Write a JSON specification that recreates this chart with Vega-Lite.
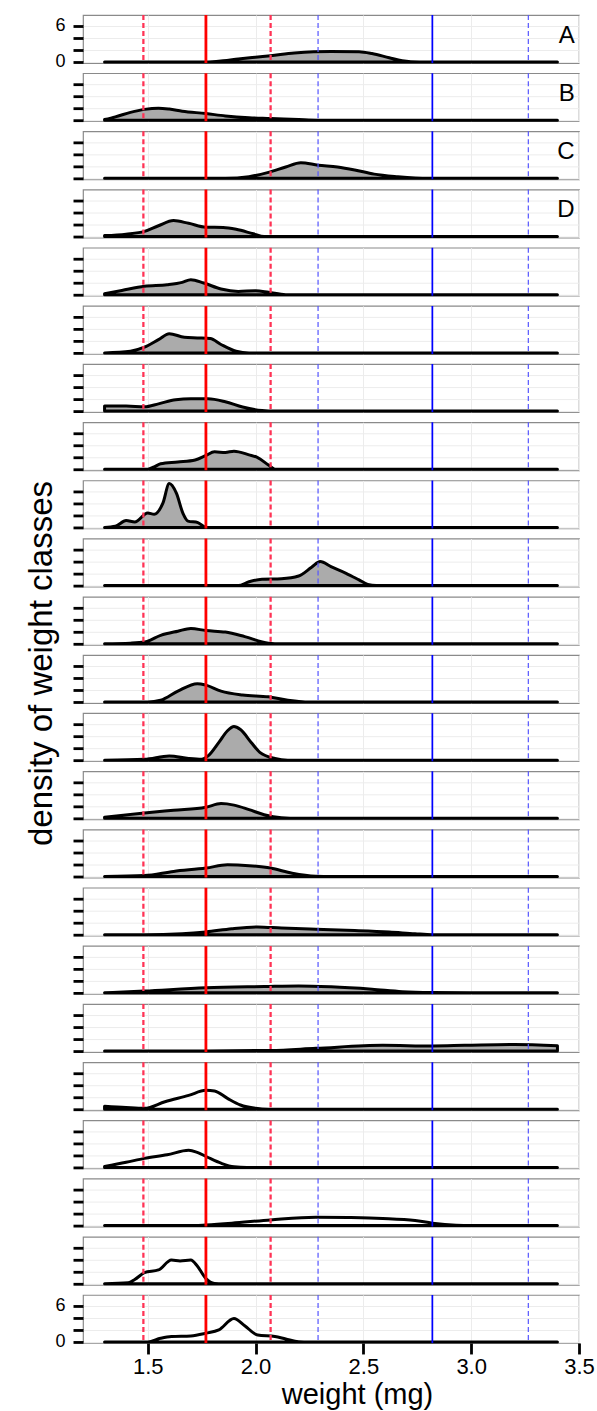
{
"$schema":"https://vega.github.io/schema/vega-lite/v6.json",
"padding":{"left":24,"top":13,"right":5,"bottom":0},
"spacing":10.18,
"bounds":"flush",
"background":"white",
"data":{"name":"dens"},
"datasets":{
"refs":[{"v":1.48,"k":"sd1"},{"v":1.77,"k":"mean1"},{"v":2.07,"k":"sd1"},{"v":2.29,"k":"sd2"},{"v":2.82,"k":"mean2"},{"v":3.265,"k":"sd2"}],
"letters":[{"p":1,"lab":"A"},{"p":2,"lab":"B"},{"p":3,"lab":"C"},{"p":4,"lab":"D"}],
"dens":[
{"p":1,"w":1.3,"d":0},{"p":1,"w":1.77,"d":0},{"p":1,"w":1.85,"d":0.2},{"p":1,"w":1.92,"d":0.5},{"p":1,"w":2.0,"d":0.8},{"p":1,"w":2.07,"d":1.05},{"p":1,"w":2.18,"d":1.5},{"p":1,"w":2.27,"d":1.7},{"p":1,"w":2.35,"d":1.75},{"p":1,"w":2.48,"d":1.7},{"p":1,"w":2.54,"d":1.4},{"p":1,"w":2.62,"d":0.7},{"p":1,"w":2.68,"d":0.2},{"p":1,"w":2.76,"d":0},{"p":1,"w":3.4,"d":0},
{"p":2,"w":1.3,"d":0.1},{"p":2,"w":1.35,"d":0.55},{"p":2,"w":1.42,"d":1.3},{"p":2,"w":1.485,"d":1.8},{"p":2,"w":1.55,"d":2.0},{"p":2,"w":1.6,"d":1.85},{"p":2,"w":1.66,"d":1.5},{"p":2,"w":1.77,"d":1.1},{"p":2,"w":1.86,"d":0.7},{"p":2,"w":1.97,"d":0.4},{"p":2,"w":2.07,"d":0.28},{"p":2,"w":2.2,"d":0.1},{"p":2,"w":2.29,"d":0},{"p":2,"w":3.4,"d":0},
{"p":3,"w":1.3,"d":0},{"p":3,"w":1.86,"d":0},{"p":3,"w":1.97,"d":0.28},{"p":3,"w":2.06,"d":1.0},{"p":3,"w":2.14,"d":1.9},{"p":3,"w":2.21,"d":2.6},{"p":3,"w":2.29,"d":2.2},{"p":3,"w":2.38,"d":1.9},{"p":3,"w":2.46,"d":1.4},{"p":3,"w":2.55,"d":0.7},{"p":3,"w":2.66,"d":0.28},{"p":3,"w":2.8,"d":0},{"p":3,"w":3.4,"d":0},
{"p":4,"w":1.3,"d":0.15},{"p":4,"w":1.4,"d":0.4},{"p":4,"w":1.485,"d":0.85},{"p":4,"w":1.55,"d":1.8},{"p":4,"w":1.62,"d":2.65},{"p":4,"w":1.69,"d":2.2},{"p":4,"w":1.77,"d":1.55},{"p":4,"w":1.85,"d":1.5},{"p":4,"w":1.91,"d":1.2},{"p":4,"w":1.99,"d":0.45},{"p":4,"w":2.04,"d":0},{"p":4,"w":3.4,"d":0},
{"p":5,"w":1.3,"d":0.15},{"p":5,"w":1.38,"d":0.7},{"p":5,"w":1.485,"d":1.4},{"p":5,"w":1.59,"d":1.65},{"p":5,"w":1.66,"d":2.05},{"p":5,"w":1.7,"d":2.5},{"p":5,"w":1.76,"d":1.95},{"p":5,"w":1.84,"d":0.95},{"p":5,"w":1.92,"d":0.55},{"p":5,"w":2.0,"d":0.65},{"p":5,"w":2.06,"d":0.4},{"p":5,"w":2.14,"d":0},{"p":5,"w":3.4,"d":0},
{"p":6,"w":1.3,"d":0},{"p":6,"w":1.42,"d":0.28},{"p":6,"w":1.485,"d":0.95},{"p":6,"w":1.55,"d":2.2},{"p":6,"w":1.6,"d":3.2},{"p":6,"w":1.67,"d":2.6},{"p":6,"w":1.73,"d":2.5},{"p":6,"w":1.79,"d":2.4},{"p":6,"w":1.84,"d":1.4},{"p":6,"w":1.91,"d":0.28},{"p":6,"w":1.97,"d":0},{"p":6,"w":3.4,"d":0},
{"p":7,"w":1.3,"d":0.85},{"p":7,"w":1.4,"d":0.85},{"p":7,"w":1.485,"d":0.7},{"p":7,"w":1.55,"d":1.2},{"p":7,"w":1.63,"d":1.9},{"p":7,"w":1.7,"d":2.05},{"p":7,"w":1.78,"d":2.05},{"p":7,"w":1.86,"d":1.55},{"p":7,"w":1.94,"d":0.67},{"p":7,"w":2.03,"d":0.1},{"p":7,"w":2.09,"d":0},{"p":7,"w":3.4,"d":0},
{"p":8,"w":1.3,"d":0},{"p":8,"w":1.5,"d":0},{"p":8,"w":1.53,"d":0.4},{"p":8,"w":1.56,"d":0.9},{"p":8,"w":1.64,"d":1.2},{"p":8,"w":1.72,"d":1.55},{"p":8,"w":1.77,"d":2.3},{"p":8,"w":1.81,"d":2.9},{"p":8,"w":1.86,"d":2.8},{"p":8,"w":1.9,"d":3.0},{"p":8,"w":1.97,"d":2.4},{"p":8,"w":2.01,"d":1.95},{"p":8,"w":2.06,"d":0.7},{"p":8,"w":2.09,"d":0},{"p":8,"w":3.4,"d":0},
{"p":9,"w":1.3,"d":0},{"p":9,"w":1.35,"d":0.2},{"p":9,"w":1.4,"d":1.15},{"p":9,"w":1.44,"d":0.9},{"p":9,"w":1.5,"d":2.4},{"p":9,"w":1.53,"d":2.2},{"p":9,"w":1.57,"d":4.0},{"p":9,"w":1.6,"d":7.3},{"p":9,"w":1.633,"d":5.7},{"p":9,"w":1.664,"d":2.3},{"p":9,"w":1.687,"d":1.05},{"p":9,"w":1.733,"d":0.8},{"p":9,"w":1.77,"d":0},{"p":9,"w":3.4,"d":0},
{"p":10,"w":1.3,"d":0},{"p":10,"w":1.92,"d":0},{"p":10,"w":1.97,"d":0.65},{"p":10,"w":2.03,"d":1.05},{"p":10,"w":2.12,"d":1.15},{"p":10,"w":2.2,"d":1.6},{"p":10,"w":2.26,"d":3.05},{"p":10,"w":2.3,"d":4.0},{"p":10,"w":2.35,"d":3.15},{"p":10,"w":2.42,"d":2.05},{"p":10,"w":2.48,"d":0.95},{"p":10,"w":2.52,"d":0.2},{"p":10,"w":2.56,"d":0},{"p":10,"w":3.4,"d":0},
{"p":11,"w":1.3,"d":0},{"p":11,"w":1.42,"d":0.1},{"p":11,"w":1.485,"d":0.28},{"p":11,"w":1.56,"d":1.4},{"p":11,"w":1.64,"d":2.1},{"p":11,"w":1.7,"d":2.55},{"p":11,"w":1.77,"d":2.2},{"p":11,"w":1.86,"d":1.95},{"p":11,"w":1.95,"d":1.2},{"p":11,"w":2.06,"d":0.1},{"p":11,"w":2.12,"d":0},{"p":11,"w":3.4,"d":0},
{"p":12,"w":1.3,"d":0},{"p":12,"w":1.5,"d":0},{"p":12,"w":1.56,"d":0.28},{"p":12,"w":1.64,"d":1.8},{"p":12,"w":1.73,"d":3.05},{"p":12,"w":1.77,"d":2.8},{"p":12,"w":1.84,"d":1.8},{"p":12,"w":1.94,"d":1.15},{"p":12,"w":2.06,"d":0.85},{"p":12,"w":2.15,"d":0.28},{"p":12,"w":2.23,"d":0},{"p":12,"w":3.4,"d":0},
{"p":13,"w":1.3,"d":0},{"p":13,"w":1.485,"d":0.15},{"p":13,"w":1.6,"d":0.7},{"p":13,"w":1.69,"d":0.28},{"p":13,"w":1.75,"d":0.15},{"p":13,"w":1.78,"d":0.7},{"p":13,"w":1.83,"d":2.95},{"p":13,"w":1.87,"d":4.9},{"p":13,"w":1.9,"d":5.6},{"p":13,"w":1.93,"d":5.1},{"p":13,"w":1.98,"d":2.95},{"p":13,"w":2.02,"d":1.3},{"p":13,"w":2.09,"d":0.28},{"p":13,"w":2.15,"d":0},{"p":13,"w":3.4,"d":0},
{"p":14,"w":1.3,"d":0.2},{"p":14,"w":1.485,"d":0.9},{"p":14,"w":1.62,"d":1.35},{"p":14,"w":1.77,"d":1.85},{"p":14,"w":1.84,"d":2.45},{"p":14,"w":1.9,"d":2.2},{"p":14,"w":1.97,"d":1.45},{"p":14,"w":2.04,"d":0.6},{"p":14,"w":2.12,"d":0.1},{"p":14,"w":2.2,"d":0},{"p":14,"w":3.4,"d":0},
{"p":15,"w":1.3,"d":0},{"p":15,"w":1.485,"d":0.15},{"p":15,"w":1.62,"d":0.85},{"p":15,"w":1.77,"d":1.4},{"p":15,"w":1.87,"d":1.95},{"p":15,"w":1.97,"d":1.8},{"p":15,"w":2.07,"d":1.4},{"p":15,"w":2.17,"d":0.55},{"p":15,"w":2.28,"d":0.05},{"p":15,"w":2.35,"d":0},{"p":15,"w":3.4,"d":0},
{"p":16,"w":1.3,"d":0},{"p":16,"w":1.485,"d":0},{"p":16,"w":1.66,"d":0.15},{"p":16,"w":1.77,"d":0.45},{"p":16,"w":1.89,"d":1.0},{"p":16,"w":2.01,"d":1.3},{"p":16,"w":2.12,"d":1.1},{"p":16,"w":2.28,"d":0.9},{"p":16,"w":2.46,"d":0.7},{"p":16,"w":2.62,"d":0.45},{"p":16,"w":2.74,"d":0.15},{"p":16,"w":2.82,"d":0},{"p":16,"w":3.4,"d":0},
{"p":17,"w":1.3,"d":0},{"p":17,"w":1.485,"d":0.3},{"p":17,"w":1.77,"d":0.85},{"p":17,"w":2.04,"d":1.05},{"p":17,"w":2.2,"d":1.15},{"p":17,"w":2.35,"d":1.0},{"p":17,"w":2.54,"d":0.6},{"p":17,"w":2.68,"d":0.2},{"p":17,"w":2.82,"d":0.05},{"p":17,"w":3.0,"d":0},{"p":17,"w":3.4,"d":0},
{"p":18,"w":1.3,"d":0},{"p":18,"w":1.77,"d":0},{"p":18,"w":2.07,"d":0.1},{"p":18,"w":2.28,"d":0.45},{"p":18,"w":2.59,"d":0.95},{"p":18,"w":2.82,"d":0.85},{"p":18,"w":2.97,"d":0.95},{"p":18,"w":3.2,"d":1.1},{"p":18,"w":3.4,"d":0.9},
{"p":19,"w":1.3,"d":0.5},{"p":19,"w":1.4,"d":0.28},{"p":19,"w":1.485,"d":0.15},{"p":19,"w":1.58,"d":1.25},{"p":19,"w":1.69,"d":2.3},{"p":19,"w":1.77,"d":3.15},{"p":19,"w":1.81,"d":3.05},{"p":19,"w":1.87,"d":1.8},{"p":19,"w":1.93,"d":0.7},{"p":19,"w":2.0,"d":0.15},{"p":19,"w":2.06,"d":0},{"p":19,"w":3.4,"d":0},
{"p":20,"w":1.3,"d":0.15},{"p":20,"w":1.4,"d":0.85},{"p":20,"w":1.485,"d":1.5},{"p":20,"w":1.59,"d":2.1},{"p":20,"w":1.69,"d":2.85},{"p":20,"w":1.73,"d":2.5},{"p":20,"w":1.78,"d":1.65},{"p":20,"w":1.84,"d":0.7},{"p":20,"w":1.9,"d":0.1},{"p":20,"w":1.96,"d":0},{"p":20,"w":3.4,"d":0},
{"p":21,"w":1.3,"d":0},{"p":21,"w":1.72,"d":0},{"p":21,"w":1.77,"d":0.1},{"p":21,"w":1.89,"d":0.4},{"p":21,"w":2.07,"d":0.95},{"p":21,"w":2.28,"d":1.4},{"p":21,"w":2.43,"d":1.35},{"p":21,"w":2.59,"d":1.2},{"p":21,"w":2.74,"d":0.85},{"p":21,"w":2.82,"d":0.4},{"p":21,"w":2.93,"d":0.05},{"p":21,"w":3.0,"d":0},{"p":21,"w":3.4,"d":0},
{"p":22,"w":1.3,"d":0},{"p":22,"w":1.41,"d":0.15},{"p":22,"w":1.44,"d":0.7},{"p":22,"w":1.485,"d":1.85},{"p":22,"w":1.55,"d":2.3},{"p":22,"w":1.61,"d":3.95},{"p":22,"w":1.65,"d":3.8},{"p":22,"w":1.7,"d":3.95},{"p":22,"w":1.73,"d":2.95},{"p":22,"w":1.77,"d":0.85},{"p":22,"w":1.81,"d":0.05},{"p":22,"w":1.85,"d":0},{"p":22,"w":3.4,"d":0},
{"p":23,"w":1.3,"d":0},{"p":23,"w":1.5,"d":0},{"p":23,"w":1.56,"d":0.6},{"p":23,"w":1.61,"d":0.9},{"p":23,"w":1.7,"d":1.0},{"p":23,"w":1.77,"d":1.45},{"p":23,"w":1.83,"d":2.0},{"p":23,"w":1.9,"d":3.9},{"p":23,"w":1.95,"d":2.7},{"p":23,"w":2.01,"d":1.15},{"p":23,"w":2.09,"d":0.9},{"p":23,"w":2.14,"d":0.5},{"p":23,"w":2.2,"d":0.05},{"p":23,"w":2.25,"d":0},{"p":23,"w":3.4,"d":0}
]},
"vconcat":[
{"layer":[{"transform":[{"filter":"datum.p==1"}],"mark":"area","encoding":{"x":{"field":"w","type":"quantitative","scale":{"domain":[1.2,3.5],"nice":false,"zero":false},"axis":{"values":[1.5,2,2.5,3,3.5],"labels":false,"ticks":false,"title":null}},"y":{"field":"d","type":"quantitative","scale":{"domain":[-0.17,7.83],"nice":false,"zero":false},"axis":{"values":[0,2,4,6],"labelExpr":"datum.value==0||datum.value==6?datum.label:''","title":null}}}},
{"data":{"name":"refs"},"mark":"rule","encoding":{"x":{"field":"v","type":"quantitative"},"color":{"field":"k","type":"nominal","scale":{"domain":["mean1","sd1","mean2","sd2"],"range":["#ff0000","#ff3355","#0000ff","#5555ff"]},"legend":null},"strokeDash":{"field":"k","type":"nominal","scale":{"domain":["mean1","sd1","mean2","sd2"],"range":[[1,0],[5,3],[1,0],[5,3]]},"legend":null},"strokeWidth":{"field":"k","type":"ordinal","scale":{"domain":["mean1","sd1","mean2","sd2"],"range":[2.8,1.2,2.8,1.2]},"legend":null}}},
{"data":{"name":"letters"},"transform":[{"filter":"datum.p==1"}],"mark":{"type":"text","align":"right","baseline":"middle","fontSize":24,"font":"Liberation Sans"},"encoding":{"x":{"datum":3.48,"type":"quantitative","axis":{"values":[1.5,2,2.5,3,3.5],"labels":false,"ticks":false,"title":null}},"y":{"datum":4.4,"type":"quantitative","axis":{"values":[0,2,4,6],"labelExpr":"datum.value==0||datum.value==6?datum.label:''","title":null}},"text":{"field":"lab"}}}]},
{"layer":[{"transform":[{"filter":"datum.p==2"}],"mark":"area","encoding":{"x":{"field":"w","type":"quantitative","scale":{"domain":[1.2,3.5],"nice":false,"zero":false},"axis":{"values":[1.5,2,2.5,3,3.5],"labels":false,"ticks":false,"title":null}},"y":{"field":"d","type":"quantitative","scale":{"domain":[-0.17,7.83],"nice":false,"zero":false},"axis":{"values":[0,2,4,6],"labels":false,"title":null}}}},
{"data":{"name":"refs"},"mark":"rule","encoding":{"x":{"field":"v","type":"quantitative"},"color":{"field":"k","type":"nominal","scale":{"domain":["mean1","sd1","mean2","sd2"],"range":["#ff0000","#ff3355","#0000ff","#5555ff"]},"legend":null},"strokeDash":{"field":"k","type":"nominal","scale":{"domain":["mean1","sd1","mean2","sd2"],"range":[[1,0],[5,3],[1,0],[5,3]]},"legend":null},"strokeWidth":{"field":"k","type":"ordinal","scale":{"domain":["mean1","sd1","mean2","sd2"],"range":[2.8,1.2,2.8,1.2]},"legend":null}}},
{"data":{"name":"letters"},"transform":[{"filter":"datum.p==2"}],"mark":{"type":"text","align":"right","baseline":"middle","fontSize":24,"font":"Liberation Sans"},"encoding":{"x":{"datum":3.48,"type":"quantitative","axis":{"values":[1.5,2,2.5,3,3.5],"labels":false,"ticks":false,"title":null}},"y":{"datum":4.4,"type":"quantitative","axis":{"values":[0,2,4,6],"labels":false,"title":null}},"text":{"field":"lab"}}}]},
{"layer":[{"transform":[{"filter":"datum.p==3"}],"mark":"area","encoding":{"x":{"field":"w","type":"quantitative","scale":{"domain":[1.2,3.5],"nice":false,"zero":false},"axis":{"values":[1.5,2,2.5,3,3.5],"labels":false,"ticks":false,"title":null}},"y":{"field":"d","type":"quantitative","scale":{"domain":[-0.17,7.83],"nice":false,"zero":false},"axis":{"values":[0,2,4,6],"labels":false,"title":null}}}},
{"data":{"name":"refs"},"mark":"rule","encoding":{"x":{"field":"v","type":"quantitative"},"color":{"field":"k","type":"nominal","scale":{"domain":["mean1","sd1","mean2","sd2"],"range":["#ff0000","#ff3355","#0000ff","#5555ff"]},"legend":null},"strokeDash":{"field":"k","type":"nominal","scale":{"domain":["mean1","sd1","mean2","sd2"],"range":[[1,0],[5,3],[1,0],[5,3]]},"legend":null},"strokeWidth":{"field":"k","type":"ordinal","scale":{"domain":["mean1","sd1","mean2","sd2"],"range":[2.8,1.2,2.8,1.2]},"legend":null}}},
{"data":{"name":"letters"},"transform":[{"filter":"datum.p==3"}],"mark":{"type":"text","align":"right","baseline":"middle","fontSize":24,"font":"Liberation Sans"},"encoding":{"x":{"datum":3.48,"type":"quantitative","axis":{"values":[1.5,2,2.5,3,3.5],"labels":false,"ticks":false,"title":null}},"y":{"datum":4.4,"type":"quantitative","axis":{"values":[0,2,4,6],"labels":false,"title":null}},"text":{"field":"lab"}}}]},
{"layer":[{"transform":[{"filter":"datum.p==4"}],"mark":"area","encoding":{"x":{"field":"w","type":"quantitative","scale":{"domain":[1.2,3.5],"nice":false,"zero":false},"axis":{"values":[1.5,2,2.5,3,3.5],"labels":false,"ticks":false,"title":null}},"y":{"field":"d","type":"quantitative","scale":{"domain":[-0.17,7.83],"nice":false,"zero":false},"axis":{"values":[0,2,4,6],"labels":false,"title":null}}}},
{"data":{"name":"refs"},"mark":"rule","encoding":{"x":{"field":"v","type":"quantitative"},"color":{"field":"k","type":"nominal","scale":{"domain":["mean1","sd1","mean2","sd2"],"range":["#ff0000","#ff3355","#0000ff","#5555ff"]},"legend":null},"strokeDash":{"field":"k","type":"nominal","scale":{"domain":["mean1","sd1","mean2","sd2"],"range":[[1,0],[5,3],[1,0],[5,3]]},"legend":null},"strokeWidth":{"field":"k","type":"ordinal","scale":{"domain":["mean1","sd1","mean2","sd2"],"range":[2.8,1.2,2.8,1.2]},"legend":null}}},
{"data":{"name":"letters"},"transform":[{"filter":"datum.p==4"}],"mark":{"type":"text","align":"right","baseline":"middle","fontSize":24,"font":"Liberation Sans"},"encoding":{"x":{"datum":3.48,"type":"quantitative","axis":{"values":[1.5,2,2.5,3,3.5],"labels":false,"ticks":false,"title":null}},"y":{"datum":4.4,"type":"quantitative","axis":{"values":[0,2,4,6],"labels":false,"title":null}},"text":{"field":"lab"}}}]},
{"layer":[{"transform":[{"filter":"datum.p==5"}],"mark":"area","encoding":{"x":{"field":"w","type":"quantitative","scale":{"domain":[1.2,3.5],"nice":false,"zero":false},"axis":{"values":[1.5,2,2.5,3,3.5],"labels":false,"ticks":false,"title":null}},"y":{"field":"d","type":"quantitative","scale":{"domain":[-0.17,7.83],"nice":false,"zero":false},"axis":{"values":[0,2,4,6],"labels":false,"title":null}}}},
{"data":{"name":"refs"},"mark":"rule","encoding":{"x":{"field":"v","type":"quantitative"},"color":{"field":"k","type":"nominal","scale":{"domain":["mean1","sd1","mean2","sd2"],"range":["#ff0000","#ff3355","#0000ff","#5555ff"]},"legend":null},"strokeDash":{"field":"k","type":"nominal","scale":{"domain":["mean1","sd1","mean2","sd2"],"range":[[1,0],[5,3],[1,0],[5,3]]},"legend":null},"strokeWidth":{"field":"k","type":"ordinal","scale":{"domain":["mean1","sd1","mean2","sd2"],"range":[2.8,1.2,2.8,1.2]},"legend":null}}}]},
{"layer":[{"transform":[{"filter":"datum.p==6"}],"mark":"area","encoding":{"x":{"field":"w","type":"quantitative","scale":{"domain":[1.2,3.5],"nice":false,"zero":false},"axis":{"values":[1.5,2,2.5,3,3.5],"labels":false,"ticks":false,"title":null}},"y":{"field":"d","type":"quantitative","scale":{"domain":[-0.17,7.83],"nice":false,"zero":false},"axis":{"values":[0,2,4,6],"labels":false,"title":null}}}},
{"data":{"name":"refs"},"mark":"rule","encoding":{"x":{"field":"v","type":"quantitative"},"color":{"field":"k","type":"nominal","scale":{"domain":["mean1","sd1","mean2","sd2"],"range":["#ff0000","#ff3355","#0000ff","#5555ff"]},"legend":null},"strokeDash":{"field":"k","type":"nominal","scale":{"domain":["mean1","sd1","mean2","sd2"],"range":[[1,0],[5,3],[1,0],[5,3]]},"legend":null},"strokeWidth":{"field":"k","type":"ordinal","scale":{"domain":["mean1","sd1","mean2","sd2"],"range":[2.8,1.2,2.8,1.2]},"legend":null}}}]},
{"layer":[{"transform":[{"filter":"datum.p==7"}],"mark":"area","encoding":{"x":{"field":"w","type":"quantitative","scale":{"domain":[1.2,3.5],"nice":false,"zero":false},"axis":{"values":[1.5,2,2.5,3,3.5],"labels":false,"ticks":false,"title":null}},"y":{"field":"d","type":"quantitative","scale":{"domain":[-0.17,7.83],"nice":false,"zero":false},"axis":{"values":[0,2,4,6],"labels":false,"title":null}}}},
{"data":{"name":"refs"},"mark":"rule","encoding":{"x":{"field":"v","type":"quantitative"},"color":{"field":"k","type":"nominal","scale":{"domain":["mean1","sd1","mean2","sd2"],"range":["#ff0000","#ff3355","#0000ff","#5555ff"]},"legend":null},"strokeDash":{"field":"k","type":"nominal","scale":{"domain":["mean1","sd1","mean2","sd2"],"range":[[1,0],[5,3],[1,0],[5,3]]},"legend":null},"strokeWidth":{"field":"k","type":"ordinal","scale":{"domain":["mean1","sd1","mean2","sd2"],"range":[2.8,1.2,2.8,1.2]},"legend":null}}}]},
{"layer":[{"transform":[{"filter":"datum.p==8"}],"mark":"area","encoding":{"x":{"field":"w","type":"quantitative","scale":{"domain":[1.2,3.5],"nice":false,"zero":false},"axis":{"values":[1.5,2,2.5,3,3.5],"labels":false,"ticks":false,"title":null}},"y":{"field":"d","type":"quantitative","scale":{"domain":[-0.17,7.83],"nice":false,"zero":false},"axis":{"values":[0,2,4,6],"labels":false,"title":null}}}},
{"data":{"name":"refs"},"mark":"rule","encoding":{"x":{"field":"v","type":"quantitative"},"color":{"field":"k","type":"nominal","scale":{"domain":["mean1","sd1","mean2","sd2"],"range":["#ff0000","#ff3355","#0000ff","#5555ff"]},"legend":null},"strokeDash":{"field":"k","type":"nominal","scale":{"domain":["mean1","sd1","mean2","sd2"],"range":[[1,0],[5,3],[1,0],[5,3]]},"legend":null},"strokeWidth":{"field":"k","type":"ordinal","scale":{"domain":["mean1","sd1","mean2","sd2"],"range":[2.8,1.2,2.8,1.2]},"legend":null}}}]},
{"layer":[{"transform":[{"filter":"datum.p==9"}],"mark":"area","encoding":{"x":{"field":"w","type":"quantitative","scale":{"domain":[1.2,3.5],"nice":false,"zero":false},"axis":{"values":[1.5,2,2.5,3,3.5],"labels":false,"ticks":false,"title":null}},"y":{"field":"d","type":"quantitative","scale":{"domain":[-0.17,7.83],"nice":false,"zero":false},"axis":{"values":[0,2,4,6],"labels":false,"title":null}}}},
{"data":{"name":"refs"},"mark":"rule","encoding":{"x":{"field":"v","type":"quantitative"},"color":{"field":"k","type":"nominal","scale":{"domain":["mean1","sd1","mean2","sd2"],"range":["#ff0000","#ff3355","#0000ff","#5555ff"]},"legend":null},"strokeDash":{"field":"k","type":"nominal","scale":{"domain":["mean1","sd1","mean2","sd2"],"range":[[1,0],[5,3],[1,0],[5,3]]},"legend":null},"strokeWidth":{"field":"k","type":"ordinal","scale":{"domain":["mean1","sd1","mean2","sd2"],"range":[2.8,1.2,2.8,1.2]},"legend":null}}}]},
{"layer":[{"transform":[{"filter":"datum.p==10"}],"mark":"area","encoding":{"x":{"field":"w","type":"quantitative","scale":{"domain":[1.2,3.5],"nice":false,"zero":false},"axis":{"values":[1.5,2,2.5,3,3.5],"labels":false,"ticks":false,"title":null}},"y":{"field":"d","type":"quantitative","scale":{"domain":[-0.17,7.83],"nice":false,"zero":false},"axis":{"values":[0,2,4,6],"labels":false,"title":null}}}},
{"data":{"name":"refs"},"mark":"rule","encoding":{"x":{"field":"v","type":"quantitative"},"color":{"field":"k","type":"nominal","scale":{"domain":["mean1","sd1","mean2","sd2"],"range":["#ff0000","#ff3355","#0000ff","#5555ff"]},"legend":null},"strokeDash":{"field":"k","type":"nominal","scale":{"domain":["mean1","sd1","mean2","sd2"],"range":[[1,0],[5,3],[1,0],[5,3]]},"legend":null},"strokeWidth":{"field":"k","type":"ordinal","scale":{"domain":["mean1","sd1","mean2","sd2"],"range":[2.8,1.2,2.8,1.2]},"legend":null}}}]},
{"layer":[{"transform":[{"filter":"datum.p==11"}],"mark":"area","encoding":{"x":{"field":"w","type":"quantitative","scale":{"domain":[1.2,3.5],"nice":false,"zero":false},"axis":{"values":[1.5,2,2.5,3,3.5],"labels":false,"ticks":false,"title":null}},"y":{"field":"d","type":"quantitative","scale":{"domain":[-0.17,7.83],"nice":false,"zero":false},"axis":{"values":[0,2,4,6],"labels":false,"title":null}}}},
{"data":{"name":"refs"},"mark":"rule","encoding":{"x":{"field":"v","type":"quantitative"},"color":{"field":"k","type":"nominal","scale":{"domain":["mean1","sd1","mean2","sd2"],"range":["#ff0000","#ff3355","#0000ff","#5555ff"]},"legend":null},"strokeDash":{"field":"k","type":"nominal","scale":{"domain":["mean1","sd1","mean2","sd2"],"range":[[1,0],[5,3],[1,0],[5,3]]},"legend":null},"strokeWidth":{"field":"k","type":"ordinal","scale":{"domain":["mean1","sd1","mean2","sd2"],"range":[2.8,1.2,2.8,1.2]},"legend":null}}}]},
{"layer":[{"transform":[{"filter":"datum.p==12"}],"mark":"area","encoding":{"x":{"field":"w","type":"quantitative","scale":{"domain":[1.2,3.5],"nice":false,"zero":false},"axis":{"values":[1.5,2,2.5,3,3.5],"labels":false,"ticks":false,"title":null}},"y":{"field":"d","type":"quantitative","scale":{"domain":[-0.17,7.83],"nice":false,"zero":false},"axis":{"values":[0,2,4,6],"labels":false,"title":"density of weight classes","titleX":-42,"titleY":8,"titleBaseline":"middle","titleAlign":"center","titleAngle":270}}}},
{"data":{"name":"refs"},"mark":"rule","encoding":{"x":{"field":"v","type":"quantitative"},"color":{"field":"k","type":"nominal","scale":{"domain":["mean1","sd1","mean2","sd2"],"range":["#ff0000","#ff3355","#0000ff","#5555ff"]},"legend":null},"strokeDash":{"field":"k","type":"nominal","scale":{"domain":["mean1","sd1","mean2","sd2"],"range":[[1,0],[5,3],[1,0],[5,3]]},"legend":null},"strokeWidth":{"field":"k","type":"ordinal","scale":{"domain":["mean1","sd1","mean2","sd2"],"range":[2.8,1.2,2.8,1.2]},"legend":null}}}]},
{"layer":[{"transform":[{"filter":"datum.p==13"}],"mark":"area","encoding":{"x":{"field":"w","type":"quantitative","scale":{"domain":[1.2,3.5],"nice":false,"zero":false},"axis":{"values":[1.5,2,2.5,3,3.5],"labels":false,"ticks":false,"title":null}},"y":{"field":"d","type":"quantitative","scale":{"domain":[-0.17,7.83],"nice":false,"zero":false},"axis":{"values":[0,2,4,6],"labels":false,"title":null}}}},
{"data":{"name":"refs"},"mark":"rule","encoding":{"x":{"field":"v","type":"quantitative"},"color":{"field":"k","type":"nominal","scale":{"domain":["mean1","sd1","mean2","sd2"],"range":["#ff0000","#ff3355","#0000ff","#5555ff"]},"legend":null},"strokeDash":{"field":"k","type":"nominal","scale":{"domain":["mean1","sd1","mean2","sd2"],"range":[[1,0],[5,3],[1,0],[5,3]]},"legend":null},"strokeWidth":{"field":"k","type":"ordinal","scale":{"domain":["mean1","sd1","mean2","sd2"],"range":[2.8,1.2,2.8,1.2]},"legend":null}}}]},
{"layer":[{"transform":[{"filter":"datum.p==14"}],"mark":"area","encoding":{"x":{"field":"w","type":"quantitative","scale":{"domain":[1.2,3.5],"nice":false,"zero":false},"axis":{"values":[1.5,2,2.5,3,3.5],"labels":false,"ticks":false,"title":null}},"y":{"field":"d","type":"quantitative","scale":{"domain":[-0.17,7.83],"nice":false,"zero":false},"axis":{"values":[0,2,4,6],"labels":false,"title":null}}}},
{"data":{"name":"refs"},"mark":"rule","encoding":{"x":{"field":"v","type":"quantitative"},"color":{"field":"k","type":"nominal","scale":{"domain":["mean1","sd1","mean2","sd2"],"range":["#ff0000","#ff3355","#0000ff","#5555ff"]},"legend":null},"strokeDash":{"field":"k","type":"nominal","scale":{"domain":["mean1","sd1","mean2","sd2"],"range":[[1,0],[5,3],[1,0],[5,3]]},"legend":null},"strokeWidth":{"field":"k","type":"ordinal","scale":{"domain":["mean1","sd1","mean2","sd2"],"range":[2.8,1.2,2.8,1.2]},"legend":null}}}]},
{"layer":[{"transform":[{"filter":"datum.p==15"}],"mark":"area","encoding":{"x":{"field":"w","type":"quantitative","scale":{"domain":[1.2,3.5],"nice":false,"zero":false},"axis":{"values":[1.5,2,2.5,3,3.5],"labels":false,"ticks":false,"title":null}},"y":{"field":"d","type":"quantitative","scale":{"domain":[-0.17,7.83],"nice":false,"zero":false},"axis":{"values":[0,2,4,6],"labels":false,"title":null}}}},
{"data":{"name":"refs"},"mark":"rule","encoding":{"x":{"field":"v","type":"quantitative"},"color":{"field":"k","type":"nominal","scale":{"domain":["mean1","sd1","mean2","sd2"],"range":["#ff0000","#ff3355","#0000ff","#5555ff"]},"legend":null},"strokeDash":{"field":"k","type":"nominal","scale":{"domain":["mean1","sd1","mean2","sd2"],"range":[[1,0],[5,3],[1,0],[5,3]]},"legend":null},"strokeWidth":{"field":"k","type":"ordinal","scale":{"domain":["mean1","sd1","mean2","sd2"],"range":[2.8,1.2,2.8,1.2]},"legend":null}}}]},
{"layer":[{"transform":[{"filter":"datum.p==16"}],"mark":"area","encoding":{"x":{"field":"w","type":"quantitative","scale":{"domain":[1.2,3.5],"nice":false,"zero":false},"axis":{"values":[1.5,2,2.5,3,3.5],"labels":false,"ticks":false,"title":null}},"y":{"field":"d","type":"quantitative","scale":{"domain":[-0.17,7.83],"nice":false,"zero":false},"axis":{"values":[0,2,4,6],"labels":false,"title":null}}}},
{"data":{"name":"refs"},"mark":"rule","encoding":{"x":{"field":"v","type":"quantitative"},"color":{"field":"k","type":"nominal","scale":{"domain":["mean1","sd1","mean2","sd2"],"range":["#ff0000","#ff3355","#0000ff","#5555ff"]},"legend":null},"strokeDash":{"field":"k","type":"nominal","scale":{"domain":["mean1","sd1","mean2","sd2"],"range":[[1,0],[5,3],[1,0],[5,3]]},"legend":null},"strokeWidth":{"field":"k","type":"ordinal","scale":{"domain":["mean1","sd1","mean2","sd2"],"range":[2.8,1.2,2.8,1.2]},"legend":null}}}]},
{"layer":[{"transform":[{"filter":"datum.p==17"}],"mark":"area","encoding":{"x":{"field":"w","type":"quantitative","scale":{"domain":[1.2,3.5],"nice":false,"zero":false},"axis":{"values":[1.5,2,2.5,3,3.5],"labels":false,"ticks":false,"title":null}},"y":{"field":"d","type":"quantitative","scale":{"domain":[-0.17,7.83],"nice":false,"zero":false},"axis":{"values":[0,2,4,6],"labels":false,"title":null}}}},
{"data":{"name":"refs"},"mark":"rule","encoding":{"x":{"field":"v","type":"quantitative"},"color":{"field":"k","type":"nominal","scale":{"domain":["mean1","sd1","mean2","sd2"],"range":["#ff0000","#ff3355","#0000ff","#5555ff"]},"legend":null},"strokeDash":{"field":"k","type":"nominal","scale":{"domain":["mean1","sd1","mean2","sd2"],"range":[[1,0],[5,3],[1,0],[5,3]]},"legend":null},"strokeWidth":{"field":"k","type":"ordinal","scale":{"domain":["mean1","sd1","mean2","sd2"],"range":[2.8,1.2,2.8,1.2]},"legend":null}}}]},
{"layer":[{"transform":[{"filter":"datum.p==18"}],"mark":"area","encoding":{"x":{"field":"w","type":"quantitative","scale":{"domain":[1.2,3.5],"nice":false,"zero":false},"axis":{"values":[1.5,2,2.5,3,3.5],"labels":false,"ticks":false,"title":null}},"y":{"field":"d","type":"quantitative","scale":{"domain":[-0.17,7.83],"nice":false,"zero":false},"axis":{"values":[0,2,4,6],"labels":false,"title":null}}}},
{"data":{"name":"refs"},"mark":"rule","encoding":{"x":{"field":"v","type":"quantitative"},"color":{"field":"k","type":"nominal","scale":{"domain":["mean1","sd1","mean2","sd2"],"range":["#ff0000","#ff3355","#0000ff","#5555ff"]},"legend":null},"strokeDash":{"field":"k","type":"nominal","scale":{"domain":["mean1","sd1","mean2","sd2"],"range":[[1,0],[5,3],[1,0],[5,3]]},"legend":null},"strokeWidth":{"field":"k","type":"ordinal","scale":{"domain":["mean1","sd1","mean2","sd2"],"range":[2.8,1.2,2.8,1.2]},"legend":null}}}]},
{"layer":[{"transform":[{"filter":"datum.p==19"}],"mark":{"type":"area","fillOpacity":0},"encoding":{"x":{"field":"w","type":"quantitative","scale":{"domain":[1.2,3.5],"nice":false,"zero":false},"axis":{"values":[1.5,2,2.5,3,3.5],"labels":false,"ticks":false,"title":null}},"y":{"field":"d","type":"quantitative","scale":{"domain":[-0.17,7.83],"nice":false,"zero":false},"axis":{"values":[0,2,4,6],"labels":false,"title":null}}}},
{"data":{"name":"refs"},"mark":"rule","encoding":{"x":{"field":"v","type":"quantitative"},"color":{"field":"k","type":"nominal","scale":{"domain":["mean1","sd1","mean2","sd2"],"range":["#ff0000","#ff3355","#0000ff","#5555ff"]},"legend":null},"strokeDash":{"field":"k","type":"nominal","scale":{"domain":["mean1","sd1","mean2","sd2"],"range":[[1,0],[5,3],[1,0],[5,3]]},"legend":null},"strokeWidth":{"field":"k","type":"ordinal","scale":{"domain":["mean1","sd1","mean2","sd2"],"range":[2.8,1.2,2.8,1.2]},"legend":null}}}]},
{"layer":[{"transform":[{"filter":"datum.p==20"}],"mark":{"type":"area","fillOpacity":0},"encoding":{"x":{"field":"w","type":"quantitative","scale":{"domain":[1.2,3.5],"nice":false,"zero":false},"axis":{"values":[1.5,2,2.5,3,3.5],"labels":false,"ticks":false,"title":null}},"y":{"field":"d","type":"quantitative","scale":{"domain":[-0.17,7.83],"nice":false,"zero":false},"axis":{"values":[0,2,4,6],"labels":false,"title":null}}}},
{"data":{"name":"refs"},"mark":"rule","encoding":{"x":{"field":"v","type":"quantitative"},"color":{"field":"k","type":"nominal","scale":{"domain":["mean1","sd1","mean2","sd2"],"range":["#ff0000","#ff3355","#0000ff","#5555ff"]},"legend":null},"strokeDash":{"field":"k","type":"nominal","scale":{"domain":["mean1","sd1","mean2","sd2"],"range":[[1,0],[5,3],[1,0],[5,3]]},"legend":null},"strokeWidth":{"field":"k","type":"ordinal","scale":{"domain":["mean1","sd1","mean2","sd2"],"range":[2.8,1.2,2.8,1.2]},"legend":null}}}]},
{"layer":[{"transform":[{"filter":"datum.p==21"}],"mark":{"type":"area","fillOpacity":0},"encoding":{"x":{"field":"w","type":"quantitative","scale":{"domain":[1.2,3.5],"nice":false,"zero":false},"axis":{"values":[1.5,2,2.5,3,3.5],"labels":false,"ticks":false,"title":null}},"y":{"field":"d","type":"quantitative","scale":{"domain":[-0.17,7.83],"nice":false,"zero":false},"axis":{"values":[0,2,4,6],"labels":false,"title":null}}}},
{"data":{"name":"refs"},"mark":"rule","encoding":{"x":{"field":"v","type":"quantitative"},"color":{"field":"k","type":"nominal","scale":{"domain":["mean1","sd1","mean2","sd2"],"range":["#ff0000","#ff3355","#0000ff","#5555ff"]},"legend":null},"strokeDash":{"field":"k","type":"nominal","scale":{"domain":["mean1","sd1","mean2","sd2"],"range":[[1,0],[5,3],[1,0],[5,3]]},"legend":null},"strokeWidth":{"field":"k","type":"ordinal","scale":{"domain":["mean1","sd1","mean2","sd2"],"range":[2.8,1.2,2.8,1.2]},"legend":null}}}]},
{"layer":[{"transform":[{"filter":"datum.p==22"}],"mark":{"type":"area","fillOpacity":0},"encoding":{"x":{"field":"w","type":"quantitative","scale":{"domain":[1.2,3.5],"nice":false,"zero":false},"axis":{"values":[1.5,2,2.5,3,3.5],"labels":false,"ticks":false,"title":null}},"y":{"field":"d","type":"quantitative","scale":{"domain":[-0.17,7.83],"nice":false,"zero":false},"axis":{"values":[0,2,4,6],"labels":false,"title":null}}}},
{"data":{"name":"refs"},"mark":"rule","encoding":{"x":{"field":"v","type":"quantitative"},"color":{"field":"k","type":"nominal","scale":{"domain":["mean1","sd1","mean2","sd2"],"range":["#ff0000","#ff3355","#0000ff","#5555ff"]},"legend":null},"strokeDash":{"field":"k","type":"nominal","scale":{"domain":["mean1","sd1","mean2","sd2"],"range":[[1,0],[5,3],[1,0],[5,3]]},"legend":null},"strokeWidth":{"field":"k","type":"ordinal","scale":{"domain":["mean1","sd1","mean2","sd2"],"range":[2.8,1.2,2.8,1.2]},"legend":null}}}]},
{"layer":[{"transform":[{"filter":"datum.p==23"}],"mark":{"type":"area","fillOpacity":0},"encoding":{"x":{"field":"w","type":"quantitative","scale":{"domain":[1.2,3.5],"nice":false,"zero":false},"axis":{"values":[1.5,2,2.5,3,3.5],"format":".1f","title":"weight (mg)","titleX":274,"titleY":52,"titleBaseline":"middle","titleAlign":"center"}},"y":{"field":"d","type":"quantitative","scale":{"domain":[-0.17,7.83],"nice":false,"zero":false},"axis":{"values":[0,2,4,6],"labelExpr":"datum.value==0||datum.value==6?datum.label:''","title":null}}}},
{"data":{"name":"refs"},"mark":"rule","encoding":{"x":{"field":"v","type":"quantitative"},"color":{"field":"k","type":"nominal","scale":{"domain":["mean1","sd1","mean2","sd2"],"range":["#ff0000","#ff3355","#0000ff","#5555ff"]},"legend":null},"strokeDash":{"field":"k","type":"nominal","scale":{"domain":["mean1","sd1","mean2","sd2"],"range":[[1,0],[5,3],[1,0],[5,3]]},"legend":null},"strokeWidth":{"field":"k","type":"ordinal","scale":{"domain":["mean1","sd1","mean2","sd2"],"range":[2.8,1.2,2.8,1.2]},"legend":null}}}]}
],
"config":{
"view":{"continuousWidth":496,"continuousHeight":48,"stroke":"#8a8a8a","strokeWidth":1.2},
"area":{"interpolate":"monotone","fill":"#ababab","stroke":"black","strokeWidth":3,"strokeJoin":"round"},
"axis":{"domain":false,"tickColor":"black","tickWidth":2.8,"tickSize":10,"gridColor":"#ececec","gridWidth":1,"labelFont":"Liberation Sans","labelColor":"black","labelFontSize":18,"labelPadding":8,"titleFont":"Liberation Sans","titleFontWeight":"normal","titleColor":"black"},
"axisX":{"labelFontSize":22,"labelFlush":false,"tickSize":11,"labelPadding":3,"titleFontSize":29},
"axisY":{"titleFontSize":33}
}
}
